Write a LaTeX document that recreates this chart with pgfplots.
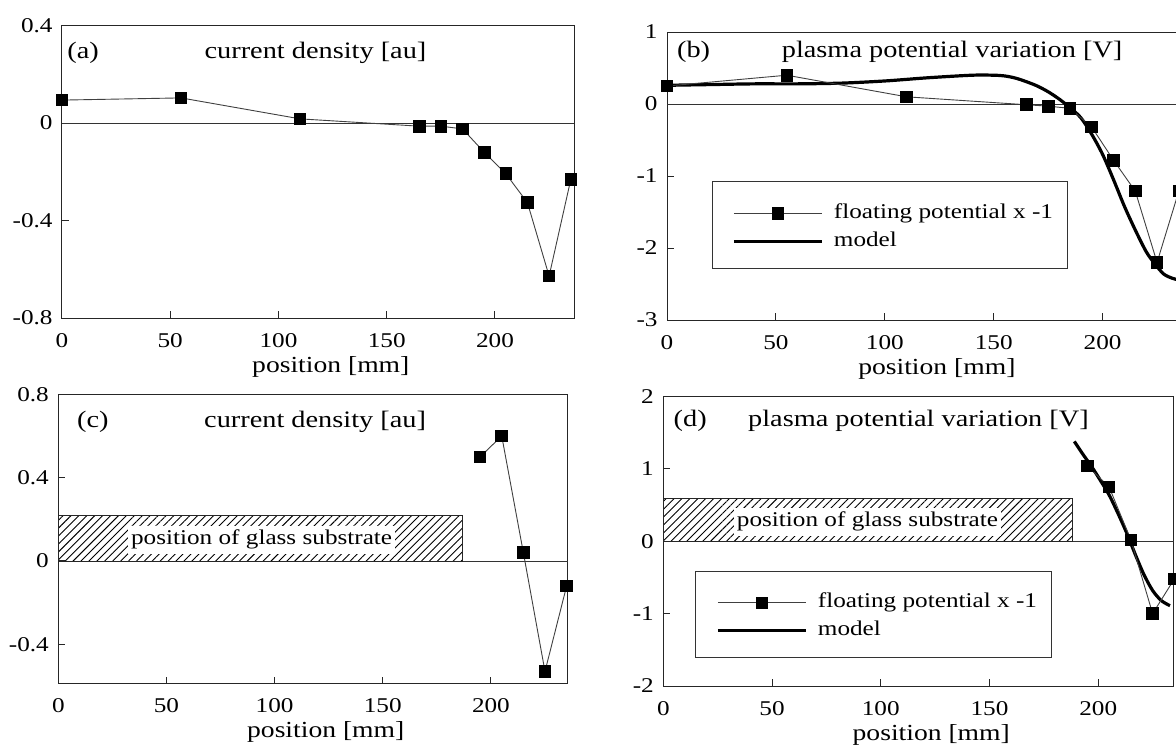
\documentclass[border=0pt]{standalone}
\usepackage{fontspec}
\setmainfont{Liberation Serif}[FakeStretch=1.2]
\usepackage{pgfplots}
\pgfplotsset{compat=1.18}
\usetikzlibrary{patterns.meta}

\newcommand\ttl{\fontsize{11.8}{14}\selectfont}
\newcommand\sml{\fontsize{10.5}{12}\selectfont}

\pgfplotsset{
  panel/.style={
    scale only axis, clip=false, anchor=south west,
    axis line style={black!85, line width=0.5pt},
    tick pos=left, tick align=inside, major tick length=3.3pt,
    tick style={black!85, line width=0.5pt},
    xmin=0, xtick={0,50,100,150,200},
    /pgf/number format/assume math mode=true,
    ticklabel style={font=\sml},
    xticklabel style={yshift=-4pt},
    yticklabel style={xshift=-1.2pt},
    xlabel={position [mm]},
    xlabel style={at={(axis description cs:0.525,0)}, anchor=base,
      yshift=-27pt, font=\fontsize{11.5}{13}\selectfont},
    legend cell align=left,
    legend style={draw=none, fill=none, anchor=north west, inner sep=0pt,
      row sep=4.5pt, font=\sml,
      nodes={inner sep=0pt, text height=7.3pt, text depth=2.2pt}},
  },
  meas/.style={black!75, line width=0.45pt, mark=square*, mark size=2.9pt,
    mark options={fill=black, draw=black, solid},
    legend image code/.code={
      \draw[mark repeat=2, mark phase=2, ##1] plot coordinates {(0pt,0pt) (22pt,0pt) (44pt,0pt)};
      \path[draw=none, fill=none] (0pt,-3pt) rectangle (50pt,3pt);}},
  model/.style={black, line width=1.6pt, no marks, smooth,
    legend image code/.code={
      \draw[##1] (0pt,0pt) -- (44pt,0pt);
      \path[draw=none, fill=none] (0pt,-3pt) rectangle (50pt,3pt);}},
}
\tikzset{
  zeroline/.style={black!80, line width=0.45pt},
  lbl/.style={inner sep=0pt, font=\ttl},
  glass/.style={black!85, line width=0.45pt,
    pattern={Lines[angle=45, distance=2.8pt, line width=0.45pt]}},
  glasslbl/.style={fill=white, inner xsep=1.5pt, inner ysep=2pt,
    text height=7.5pt, text depth=2.5pt, font=\sml},
}

\begin{document}
\begin{tikzpicture}

% (a) current density
\begin{axis}[panel, at={(31pt,-159pt)}, width=256pt, height=146.25pt,
  xmax=236.5, ymin=-0.8, ymax=0.4, ytick={-0.8,-0.4,0,0.4}]
\draw[zeroline] (axis cs:0,0) -- (axis cs:236.5,0);
\addplot[meas] coordinates {(0,0.094) (55,0.103) (110,0.017) (165,-0.013)
  (175,-0.013) (185,-0.024) (195,-0.12) (205,-0.208) (215,-0.327)
  (225,-0.628) (235,-0.232)};
\node[lbl, anchor=base west] at (axis cs:2.3,0.265) {(a)};
\node[lbl, anchor=base] at (axis cs:117.1,0.265) {current density [au]};
\end{axis}

% (b) plasma potential
\begin{axis}[panel, at={(333.5pt,-160pt)}, width=257pt, height=144pt,
  xmax=236, ymin=-3, ymax=1, ytick={-3,-2,-1,0,1},
  legend style={at={(axis cs:29.8,-1.382)}}]
\draw[zeroline] (axis cs:0,0) -- (axis cs:236,0);
\addplot[model, forget plot] coordinates {(0,0.26) (20,0.27) (40,0.28) (60,0.28)
  (80,0.29) (100,0.32) (120,0.365) (140,0.40) (150,0.40) (155,0.39) (160,0.36)
  (165,0.31) (170,0.25) (175,0.17) (180,0.07) (185,-0.05) (190,-0.19)
  (195,-0.42) (200,-0.70) (205,-1.05) (210,-1.42) (215,-1.75) (220,-2.05)
  (224,-2.22) (228,-2.36) (232,-2.42) (236,-2.45)};
\addplot[meas, forget plot] coordinates {(0,0.25) (55,0.40) (110,0.10) (165,-0.01)
  (175,-0.03) (185,-0.06) (195,-0.32) (205,-0.78) (215,-1.21) (225,-2.20)
  (235,-1.21)};
\addlegendimage{meas}\addlegendentry{floating potential x -1}
\addlegendimage{model}\addlegendentry{model}
\draw[black!80, line width=0.5pt] (axis cs:20.7,-1.083) rectangle (axis cs:184.1,-2.278);
\node[lbl, anchor=base west] at (axis cs:4.45,0.64) {(b)};
\node[lbl, anchor=base] at (axis cs:130.9,0.64) {plasma potential variation [V]};
\end{axis}

% (c) current density, glass substrate
\begin{axis}[panel, at={(29.15pt,-341.65pt)}, width=254.7pt, height=144.5pt,
  xmax=235.5, ymin=-0.587, ymax=0.8, ytick={-0.4,0,0.4,0.8}]
\draw[zeroline] (axis cs:0,0) -- (axis cs:235.5,0);
\draw[glass] (axis cs:0,0) rectangle (axis cs:187,0.22);
\node[glasslbl] at (axis cs:94,0.101) {position of glass substrate};
\addplot[meas] coordinates {(195,0.50) (205,0.60) (215,0.04) (225,-0.53) (235,-0.12)};
\node[lbl, anchor=base west] at (axis cs:8.5,0.64) {(c)};
\node[lbl, anchor=base] at (axis cs:118.7,0.64) {current density [au]};
\end{axis}

% (d) plasma potential, glass substrate
\begin{axis}[panel, at={(331.65pt,-343pt)}, width=255.2pt, height=144.75pt,
  xmax=234.7, ymin=-2, ymax=2, ytick={-2,-1,0,1,2},
  legend style={at={(axis cs:24.2,-0.714)}}]
\draw[zeroline] (axis cs:0,0) -- (axis cs:234.7,0);
\draw[glass] (axis cs:0,0) rectangle (axis cs:188,0.59);
\node[glasslbl] at (axis cs:93.9,0.27) {position of glass substrate};
\addplot[model, forget plot] coordinates {(189,1.38) (193,1.20) (197,1.03) (201,0.84)
  (205,0.64) (209,0.39) (213,0.12) (217,-0.18) (221,-0.46) (225,-0.68)
  (229,-0.82) (233,-0.89)};
\addplot[meas, forget plot] coordinates {(195,1.04) (205,0.75) (215,0.02) (225,-1.00) (235,-0.52)};
\addlegendimage{meas}\addlegendentry{floating potential x -1}
\addlegendimage{model}\addlegendentry{model}
\draw[black!80, line width=0.5pt] (axis cs:15,-0.42) rectangle (axis cs:178.3,-1.60);
\node[lbl, anchor=base west] at (axis cs:4.6,1.58) {(d)};
\node[lbl, anchor=base] at (axis cs:117.3,1.58) {plasma potential variation [V]};
\end{axis}

\pgfresetboundingbox
\useasboundingbox (0pt,0pt) rectangle (588pt,-372.5pt);
\end{tikzpicture}
\end{document}
